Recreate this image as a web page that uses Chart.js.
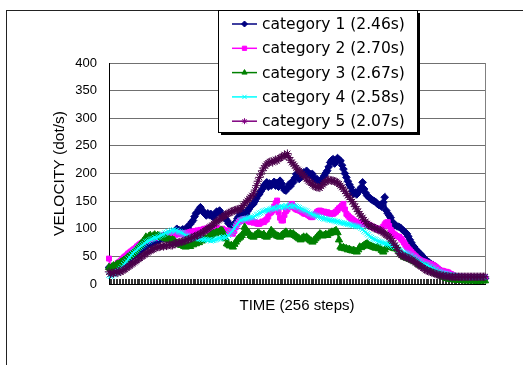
<!DOCTYPE html>
<html>
<head>
<meta charset="utf-8">
<script src="https://cdn.jsdelivr.net/npm/chart.js@4.4.1/dist/chart.umd.min.js"></script>
<style>
  html, body { margin: 0; padding: 0; background: #fff; }
  #wrap { position: relative; width: 523px; height: 365px; }
</style>
</head>
<body>
<div id="wrap"><canvas id="graficaVelocidad" width="523" height="365"></canvas></div>
<script>
// 256 time steps
const steps = Array.from({ length: 256 }, (_, i) => i + 1);

const legendLabels = [
  "category 1 (2.46s)",
  "category 2 (2.70s)",
  "category 3 (2.67s)",
  "category 4 (2.58s)",
  "category 5 (2.07s)",
];

const yTicks = [0, 50, 100, 150, 200, 250, 300, 350, 400];

const cat1 = [
  30,26,28,31,29,33,32,35,34,38,37,40,42,41,45,47,
  50,52,55,54,58,60,62,64,66,70,69,72,71,74,76,75,
  78,80,79,82,84,83,86,85,88,90,89,92,91,95,100,98,
  97,96,99,95,97,103,100,108,112,115,122,128,130,135,139,134,
  130,127,124,128,125,127,122,121,126,131,129,133,128,124,120,118,
  115,110,108,104,103,106,112,118,122,127,125,130,128,127,132,136,
  140,143,145,150,155,160,163,168,172,178,180,184,176,182,178,181,
  185,178,183,176,187,182,175,170,169,174,180,177,185,184,192,199,
  193,190,195,198,202,200,205,201,197,199,199,192,188,190,186,184,
  188,192,196,201,205,212,220,224,226,218,222,228,225,223,215,208,
  200,193,186,180,175,168,163,166,162,168,169,175,184,172,165,160,
  158,155,153,151,150,148,145,143,142,140,148,157,133,128,124,120,
  113,109,107,105,104,103,101,98,96,93,91,86,80,75,70,67,
  63,60,57,55,52,49,46,43,41,39,37,35,34,32,30,28,
  25,24,22,21,20,19,18,16,15,13,13,12,12,11,11,11,
  11,10,10,11,10,10,10,11,10,10,10,10,11,10,10,10,
];

const cat2 = [
  46,30,25,28,32,35,38,40,42,45,48,50,52,55,57,59,
  61,63,65,68,70,72,74,75,77,79,80,82,81,83,84,85,
  84,86,85,87,86,88,89,87,90,88,91,90,92,89,91,93,
  90,92,91,89,91,93,92,94,95,93,96,95,97,96,98,97,
  99,100,98,101,102,100,104,103,101,102,100,99,98,100,97,96,
  97,95,93,92,91,96,103,108,112,115,114,117,116,118,115,113,
  112,114,111,112,110,109,109,111,113,112,115,117,122,128,130,133,
  140,146,151,130,120,115,115,125,132,135,139,142,145,140,137,135,
  134,133,132,130,128,127,127,125,123,121,121,124,127,130,132,133,
  132,130,131,129,130,128,127,128,127,129,131,134,137,139,142,145,
  135,127,124,121,119,117,115,113,112,110,109,111,108,110,109,109,
  107,106,104,103,102,101,100,98,97,100,104,108,111,112,105,98,
  94,91,89,87,86,85,82,79,75,71,67,64,61,58,55,52,
  50,47,45,43,42,41,40,39,38,37,36,35,34,32,30,28,
  25,24,24,23,22,22,21,19,18,16,15,14,14,13,13,13,
  12,13,12,12,12,13,12,12,12,11,12,12,12,12,12,12,
];

const cat3 = [
  30,28,31,33,32,35,36,37,39,41,43,44,47,49,51,53,
  55,58,61,64,67,70,74,77,80,85,82,86,88,84,87,89,
  86,88,87,85,84,86,83,82,80,81,79,80,79,76,74,72,
  73,70,71,68,67,69,70,68,72,71,74,73,76,75,79,78,
  80,82,81,84,86,88,90,92,91,94,93,95,97,96,88,82,
  73,71,69,70,67,72,76,80,83,85,88,92,103,98,94,92,
  88,86,85,88,90,92,91,89,88,90,86,85,88,92,97,94,
  91,89,87,86,85,88,90,92,94,91,89,92,90,91,88,86,
  84,82,80,83,85,83,85,82,80,78,76,79,82,85,88,91,
  89,87,88,90,88,91,92,94,94,95,97,93,80,67,65,66,
  64,64,62,63,61,60,61,59,58,62,67,66,68,70,72,73,
  71,69,68,67,66,65,66,64,64,61,58,62,66,68,70,68,
  66,65,64,64,62,58,55,52,49,48,47,46,45,44,43,41,
  40,38,36,34,33,32,31,31,29,27,25,24,22,20,19,18,
  17,16,14,13,12,10,10,9,9,8,8,8,7,7,7,7,
  7,6,6,6,7,6,6,6,6,6,5,6,6,6,6,6,
];

const cat4 = [
  16,14,15,17,18,20,22,25,28,31,35,38,41,45,48,52,
  55,58,60,62,65,67,69,71,73,76,77,78,80,81,82,84,
  83,85,86,88,89,90,92,93,95,94,96,97,98,96,97,95,
  94,93,92,90,88,87,86,85,84,84,83,82,83,82,82,81,
  80,81,80,79,80,78,79,79,80,81,82,83,82,84,85,84,
  85,88,91,94,97,101,105,108,112,115,116,117,118,118,119,120,
  121,120,121,123,125,126,128,129,131,132,133,134,133,135,136,137,
  138,136,138,140,139,141,138,140,142,139,141,143,140,142,141,140,
  139,138,136,135,134,133,132,130,128,127,126,125,124,123,122,121,
  120,119,118,118,117,116,116,115,115,114,113,113,112,111,111,110,
  110,109,108,108,107,106,106,105,104,104,103,101,99,96,94,91,
  89,86,84,82,81,80,78,77,76,75,74,74,73,72,71,70,
  69,68,67,66,64,61,60,58,57,56,55,54,52,51,49,48,
  46,44,42,41,39,37,36,35,34,32,31,29,28,26,25,23,
  22,21,20,19,19,18,17,17,16,16,15,15,14,14,14,13,
  13,13,12,13,12,12,12,12,13,12,12,12,12,12,12,12,
];

const cat5 = [
  22,18,20,19,21,22,20,23,22,24,26,27,29,31,33,35,
  37,39,41,43,45,47,49,51,53,55,57,59,61,62,63,65,
  66,67,67,68,69,68,70,69,70,71,70,70,72,73,74,75,
  76,76,77,78,79,80,81,82,83,84,86,87,88,89,91,92,
  94,96,98,100,102,104,106,109,111,113,115,117,119,121,123,125,
  127,128,129,131,132,133,134,135,135,136,138,142,145,148,151,154,
  157,160,163,170,178,186,193,199,205,210,214,217,219,221,222,220,
  223,225,223,226,228,230,231,234,232,236,229,224,220,217,214,210,
  207,205,202,199,196,193,190,187,185,183,180,178,176,175,175,174,
  177,180,183,185,187,189,188,187,187,186,185,183,181,178,175,172,
  168,164,160,157,153,149,145,140,136,131,127,123,120,116,113,109,
  107,105,104,103,101,100,99,98,97,95,93,91,89,87,85,82,
  78,74,70,66,61,55,53,52,50,49,48,47,46,44,43,41,
  39,37,35,33,31,29,27,25,24,23,22,21,20,19,18,17,
  16,16,15,15,14,14,14,13,13,13,13,13,13,13,13,13,
  13,13,13,13,13,13,13,13,13,13,13,13,13,13,13,13,
];

const seriesData = [cat1, cat2, cat3, cat4, cat5];
const seriesColors = ["#000080", "#ff00ff", "#008000", "#00ffff", "#800080"];
const markerEdges = ["#000080", "#ff00ff", "#008000", "#00ffff", "#4a004a"];
const seriesMarkers = ["rectRot", "rect", "triangle", "crossRot", "star"];
const markerSizes = [3.8, 3.5, 4.2, 3.8, 4.2];

const FONT = "'Liberation Sans', Arial, sans-serif";
Chart.defaults.font.family = FONT;
Chart.defaults.color = "#000";

// outer frame + plot border
const marcoPlugin = {
  id: "marco",
  beforeDraw(chart) {
    const ctx = chart.ctx;
    ctx.save();
    ctx.strokeStyle = "#222";
    ctx.lineWidth = 1;
    ctx.strokeRect(6.5, 10.5, 1000, 1000);
    ctx.restore();
  },
  beforeDatasetsDraw(chart) {
    const { ctx, chartArea } = chart;
    ctx.save();
    ctx.strokeStyle = "#808080";
    ctx.lineWidth = 1;
    ctx.beginPath();
    ctx.moveTo(Math.round(chartArea.right) + 0.5, chartArea.top);
    ctx.lineTo(Math.round(chartArea.right) + 0.5, chartArea.bottom);
    ctx.stroke();
    ctx.restore();
  },
};

// legend box that overlaps the plot, like the original
const leyendaPlugin = {
  id: "leyenda",
  afterDraw(chart) {
    const ctx = chart.ctx;
    const bx = 218, by = 10, bw = 199, bh = 122;
    ctx.save();
    ctx.fillStyle = "#000";
    ctx.fillRect(bx + 3, by + 3, bw, bh);
    ctx.fillStyle = "#fff";
    ctx.fillRect(bx, by, bw, bh);
    ctx.strokeStyle = "#000";
    ctx.lineWidth = 1;
    ctx.strokeRect(bx + 0.5, by + 0.5, bw, bh);

    ctx.font = "15.5px 'DejaVu Sans', sans-serif";
    ctx.textBaseline = "middle";
    ctx.textAlign = "left";
    chart.data.datasets.forEach((ds, i) => {
      const y = 24 + i * 24.3;
      ctx.strokeStyle = ds.borderColor;
      ctx.lineWidth = 1.5;
      ctx.beginPath();
      ctx.moveTo(232, y);
      ctx.lineTo(257, y);
      ctx.stroke();
      ctx.save();
      ctx.fillStyle = ds.borderColor;
      ctx.strokeStyle = ds.borderColor;
      ctx.lineWidth = 1;
      Chart.helpers.drawPoint(ctx, {
        pointStyle: ds.pointStyle,
        radius: 3,
        borderWidth: 1,
        rotation: 0,
      }, 244.5, y);
      ctx.restore();
      ctx.fillStyle = "#000";
      ctx.fillText(ds.label, 262, y + 1);
    });
    ctx.restore();
  },
};

new Chart(document.getElementById("graficaVelocidad"), {
  type: "line",
  data: {
    labels: steps,
    datasets: seriesData.map((values, i) => ({
      label: legendLabels[i],
      data: values,
      borderColor: seriesColors[i],
      backgroundColor: seriesColors[i],
      pointBackgroundColor: seriesColors[i],
      pointBorderColor: markerEdges[i],
      pointStyle: seriesMarkers[i],
      pointRadius: markerSizes[i],
      pointBorderWidth: 1,
      borderWidth: 2,
      tension: 0,
      fill: false,
      order: 4 - i,
      clip: 6,
    })),
  },
  options: {
    responsive: false,
    animation: false,
    events: [],
    layout: {
      autoPadding: false,
      padding: { top: 63, right: 38, bottom: 45, left: 0 },
    },
    plugins: {
      legend: { display: false },
      tooltip: { enabled: false },
    },
    scales: {
      x: {
        type: "category",
        offset: false,
        ticks: { display: false },
        grid: {
          drawOnChartArea: false,
          drawTicks: true,
          tickLength: -5,
          color: "#333",
          lineWidth: 1,
        },
        border: { display: true, color: "#000", width: 1 },
        title: {
          display: true,
          text: "TIME (256 steps)",
          font: { size: 15 },
          color: "#000",
          padding: { top: 0, bottom: 5 },
        },
        afterFit(scale) {
          scale.height = 36;
        },
      },
      y: {
        min: 0,
        max: 400,
        afterBuildTicks(scale) {
          scale.ticks = yTicks.map((v) => ({ value: v }));
        },
        ticks: {
          padding: 12,
          font: { size: 13 },
          color: "#000",
        },
        grid: {
          color: "#707070",
          lineWidth: 1,
          drawTicks: false,
        },
        border: { display: true, color: "#000", width: 1 },
        title: {
          display: true,
          text: "VELOCITY (dot/s)",
          font: { size: 15.5 },
          color: "#000",
          padding: { top: 50, bottom: 0 },
        },
        afterFit(scale) {
          scale.width = 109;
        },
      },
    },
  },
  plugins: [marcoPlugin, leyendaPlugin],
});
</script>
</body>
</html>
